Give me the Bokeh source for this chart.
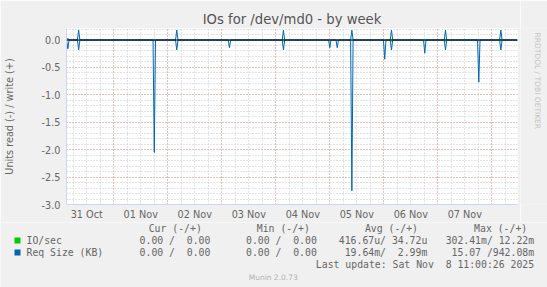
import math
from bokeh.plotting import figure
from bokeh.models import Span, FixedTicker, Range1d
from bokeh.layouts import column, row
from bokeh.core.properties import value
from bokeh.embed import file_html
from bokeh.resources import INLINE

# ---------------- data (hours since 31 Oct 00:00) ----------------
day_labels = ["31 Oct", "01 Nov", "02 Nov", "03 Nov", "04 Nov", "05 Nov", "06 Nov", "07 Nov"]
y_tick_labels = ["-3.0", "-2.5", "-2.0", "-1.5", "-1.0", "-0.5", "0.0"]

# Req Size (KB) spikes
req_times = [3.6, 8.4, 42.0, 52.0, 75.4, 99.4, 120.0, 123.3, 129.8, 144.4, 147.4, 162.2, 171.4, 186.2, 196.0]
req_read = [0.16, 0.18, 2.05, 0.18, 0.14, 0.18, 0.14, 0.14, 2.75, 0.35, 0.18, 0.24, 0.18, 0.77, 0.18]
req_write = [0.03, 0.18, 0.0, 0.18, 0.0, 0.18, 0.0, 0.0, 0.18, 0.0, 0.18, 0.0, 0.18, 0.0, 0.18]

# IO/sec spikes
io_times = [99.4, 147.4, 171.4, 196.0]
io_read = [0.02, 0.02, 0.02, 0.02]
io_write = [0.0122, 0.0122, 0.0122, 0.0122]

series_names = ["IO/sec", "Req Size (KB)"]
series_colors = ["#00CC00", "#0066B3"]
headers = ["Cur (-/+)", "Min (-/+)", "Avg (-/+)", "Max (-/+)"]
io_stats = ["0.00 /  0.00", "0.00 /  0.00", "416.67u/ 34.72u", "302.41m/ 12.22m"]
req_stats = ["0.00 /  0.00", "0.00 /  0.00", " 19.64m/  2.99m", " 15.07 /942.08m"]
last_update = "Last update: Sat Nov  8 11:00:26 2025"
version = "Munin 2.0.73"
watermark = "RRDTOOL / TOBI OETIKER"
title = "IOs for /dev/md0 - by week"

T0, T1 = 3.0, 203.4
YLO, YHI = -3.0, 0.21
HW = 0.55  # half width of a sample spike (hours)


def nb(s):
    return s.replace(" ", "\u00a0")


def spike_series(times, vals, sign):
    xs, ys = [T0], [0.0]
    for t, v in zip(times, vals):
        xs += [t - HW, t, t + HW]
        ys += [0.0, sign * v, 0.0]
    xs.append(T1)
    ys.append(0.0)
    return xs, ys


def spike_segments(times, vals, sign):
    xs, ys = [], []
    for t, v in zip(times, vals):
        xs.append([t - HW, t, t + HW])
        ys.append([0.0, sign * v, 0.0])
    return xs, ys


W = 547
W_MAIN = 520
H_MAIN, H_LEG = 222, 65
FL, FR, FT, FB = 66, 3, 28, 18
BG = "#F0F0F0"

p = figure(width=W_MAIN, height=H_MAIN, output_backend="svg", toolbar_location=None,
           x_range=Range1d(T0, T1), y_range=Range1d(YLO, YHI),
           min_border_left=FL, min_border_right=FR, min_border_top=FT, min_border_bottom=FB)
p.border_fill_color = BG
p.background_fill_color = "#FFFFFF"
p.outline_line_color = None

# title (centred over the whole image)
p.title.text = title
p.title.align = "center"
p.title.offset = -18
p.title.text_font = "DejaVu Sans"
p.title.text_font_size = "13.2px"
p.title.text_font_style = "normal"
p.title.text_color = "#555555"
p.title.standoff = 3

# grids
midnights = [24 * i for i in range(1, 9)]
sixh = [6 * i for i in range(0, 35)]
p.xgrid.ticker = FixedTicker(ticks=midnights, minor_ticks=sixh)
p.xgrid.grid_line_color = "#E89A9A"
p.xgrid.grid_line_dash = "1 2"
p.xgrid.minor_grid_line_color = "#C8C8C8"
p.xgrid.minor_grid_line_dash = "1 2"

yt = [-3.0, -2.5, -2.0, -1.5, -1.0, -0.5, 0.0]
ymin = [round(-3.0 + 0.1 * i, 1) for i in range(0, 33)]
p.ygrid.ticker = FixedTicker(ticks=yt, minor_ticks=ymin)
p.ygrid.grid_line_color = "#E89A9A"
p.ygrid.grid_line_dash = "1 2"
p.ygrid.minor_grid_line_color = "#C8C8C8"
p.ygrid.minor_grid_line_dash = "1 2"

# axes
noons = [12 + 24 * i for i in range(len(day_labels))]
p.xaxis.ticker = FixedTicker(ticks=noons)
p.xaxis.major_label_overrides = {n: l for n, l in zip(noons, day_labels)}
p.yaxis.ticker = FixedTicker(ticks=yt)
p.yaxis.major_label_overrides = {v: l for v, l in zip(yt, y_tick_labels)}
for ax in (p.xaxis[0], p.yaxis[0]):
    ax.axis_line_color = "#CFD6F8"
    ax.major_tick_out = 0
    ax.major_tick_in = 0
    ax.minor_tick_out = 0
    ax.minor_tick_in = 0
    ax.major_label_text_font = "DejaVu Sans"
    ax.major_label_text_font_size = "9.7px"
    ax.major_label_text_color = "#666666"
p.xaxis.major_label_standoff = 4
p.yaxis.major_label_standoff = 6
p.yaxis.axis_label = "Units read (-) / write (+)"
p.yaxis.axis_label_text_font = "DejaVu Sans"
p.yaxis.axis_label_text_font_style = "normal"
p.yaxis.axis_label_text_font_size = "9.7px"
p.yaxis.axis_label_text_color = "#666666"
p.yaxis.axis_label_standoff = 24

# series
bx, by = spike_series(req_times, req_read, -1)
p.line(bx, by, line_color=series_colors[1], line_width=1)
bx, by = spike_series(req_times, req_write, 1)
p.line(bx, by, line_color=series_colors[1], line_width=1)
gx, gy = spike_segments(io_times, io_read, -1)
p.multi_line(gx, gy, line_color=series_colors[0], line_width=1)
gx, gy = spike_segments(io_times, io_write, 1)
p.multi_line(gx, gy, line_color=series_colors[0], line_width=1)

p.add_layout(Span(location=0, dimension="width", line_color="#000000", line_width=1))


def pixel_panel(w, h):
    f = figure(width=w, height=h, output_backend="svg", toolbar_location=None,
               x_range=Range1d(0, w), y_range=Range1d(h, 0),
               x_axis_location=None, y_axis_location=None,
               min_border_left=0, min_border_right=0, min_border_top=0, min_border_bottom=0)
    f.border_fill_color = BG
    f.background_fill_color = BG
    f.outline_line_color = None
    f.grid.visible = False
    return f


# ---------------- right strip with the RRDtool watermark ----------------
side = pixel_panel(W - W_MAIN, H_MAIN)
side.text(x=[537 - W_MAIN], y=[5], text=[watermark], angle=-math.pi / 2,
          text_font=value("DejaVu Sans"), text_font_size=value("7.5px"), text_color="#C4C4C4",
          text_align=value("left"), text_baseline=value("middle"))

# ---------------- legend panel (coordinates = pixels) ----------------
leg = pixel_panel(W, H_LEG)
mono = value("DejaVu Sans Mono")
fs = value("9.8px")
top = H_MAIN
row_y = [240 - top, 252 - top]
hdr_x = [201.3, 309.4, 417.5, 526.7]
val_x = [209.9, 316.3, 426.8, 533.6]

leg.text(x=hdr_x, y=[227.5 - top] * 4, text=[nb(h) for h in headers], text_font=mono,
         text_font_size=fs, text_color="#666666", text_align=value("right"),
         text_baseline=value("middle"))
leg.text(x=[26, 26], y=row_y, text=[nb(s) for s in series_names], text_font=mono, text_font_size=fs,
         text_color="#666666", text_align=value("left"), text_baseline=value("middle"))
leg.rect(x=[17, 17], y=row_y, width=6, height=6, fill_color=series_colors, line_color=None)
for stats, y in zip([io_stats, req_stats], row_y):
    leg.text(x=val_x, y=[y] * 4, text=[nb(s) for s in stats], text_font=mono, text_font_size=fs,
             text_color="#666666", text_align=value("right"), text_baseline=value("middle"))
leg.text(x=[533.6], y=[263.5 - top], text=[nb(last_update)], text_font=mono, text_font_size=fs,
         text_color="#666666", text_align=value("right"), text_baseline=value("middle"))
leg.text(x=[272.7], y=[276.5 - top], text=[version], text_font=value("DejaVu Sans"),
         text_font_size=value("7.5px"), text_color="#B0B0B0",
         text_align=value("center"), text_baseline=value("middle"))

layout = column(row(p, side, spacing=0), leg, spacing=0)
open("out.html", "w").write(file_html(layout, INLINE))
